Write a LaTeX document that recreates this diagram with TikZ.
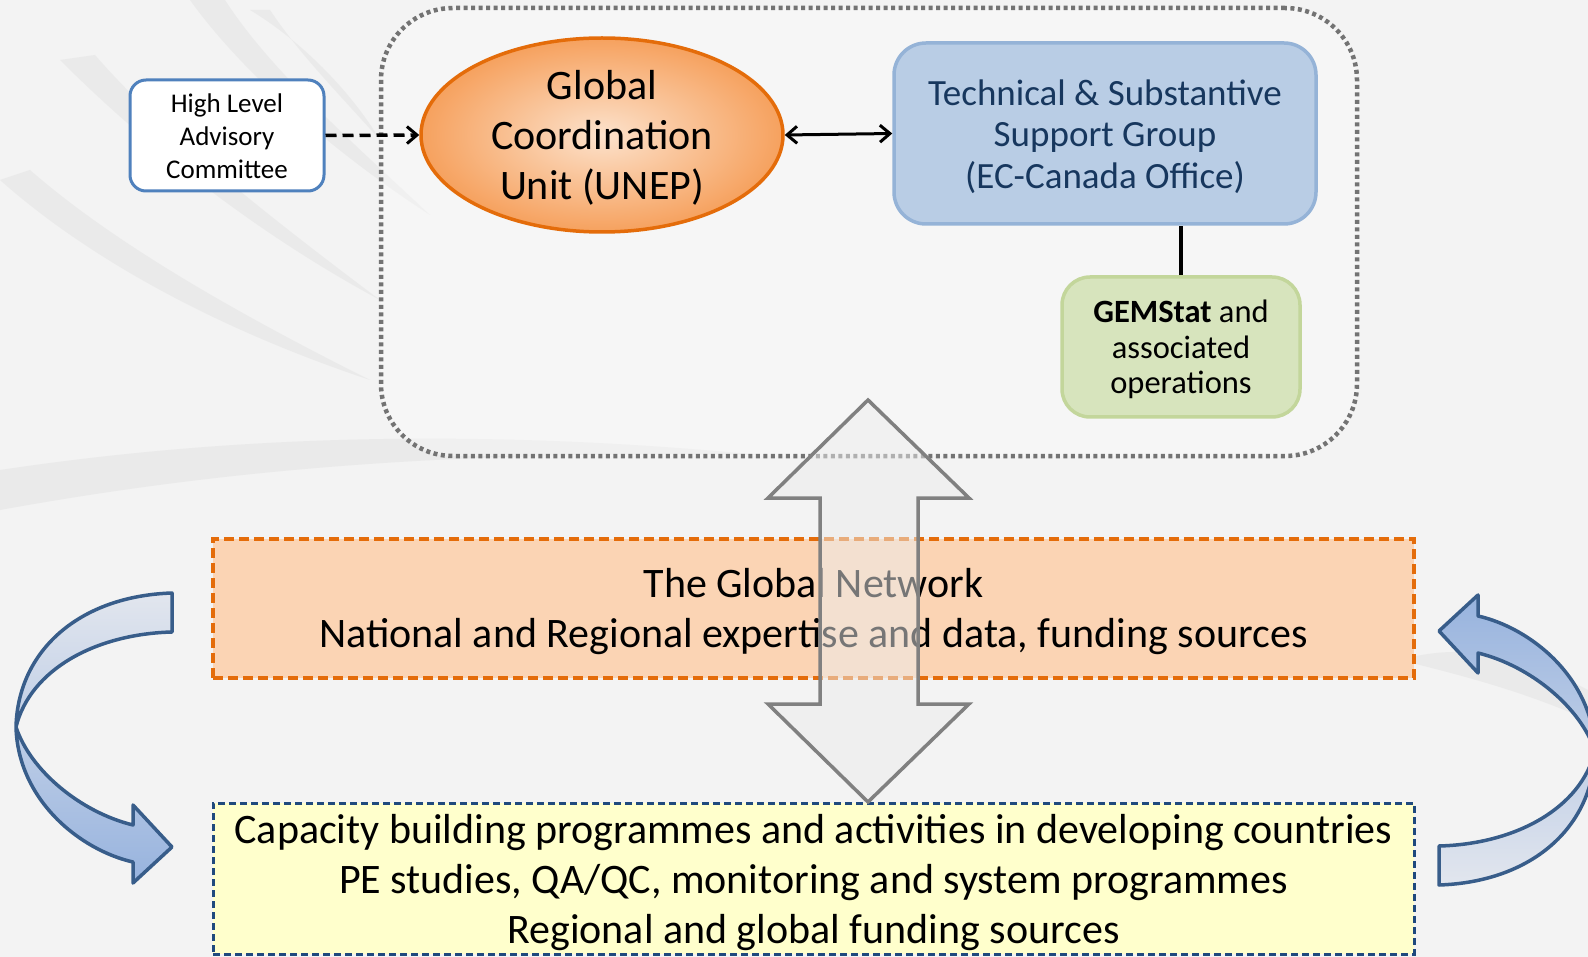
\documentclass[tikz,border=0pt]{standalone}
\usepackage{fontspec}
\setmainfont{Carlito}
\usetikzlibrary{arrows.meta,shapes.geometric}

\definecolor{bgpaper}{HTML}{F3F3F3}
\definecolor{swoosh}{HTML}{D6D6D6}
\definecolor{frameGrey}{HTML}{737373}
\definecolor{hlacBlue}{HTML}{4F81BD}
\definecolor{gcuEdge}{HTML}{E46C0A}
\definecolor{gcuInner}{HTML}{FCE2CC}
\definecolor{gcuOuter}{HTML}{F6A15E}
\definecolor{tsFill}{HTML}{B9CDE5}
\definecolor{tsEdge}{HTML}{95B3D7}
\definecolor{tsText}{HTML}{17375E}
\definecolor{gemFill}{HTML}{D7E4BD}
\definecolor{gemEdge}{HTML}{C3D69B}
\definecolor{netFill}{HTML}{FBD4B4}
\definecolor{netEdge}{HTML}{E46C0A}
\definecolor{capFill}{HTML}{FFFFCC}
\definecolor{capEdge}{HTML}{1F497D}
\definecolor{curveEdge}{HTML}{385D8A}
\definecolor{curveLight}{HTML}{E2E6EE}
\definecolor{curveBlue}{HTML}{97B3DE}
\definecolor{bigArrowEdge}{HTML}{808080}
\definecolor{bigArrowFill}{HTML}{EDEDED}

\tikzset{
  card/.style={draw, rounded corners=#1, inner sep=0pt},
  words/.style={align=center, inner sep=0pt},
  bendarrow/.style={draw=curveEdge, line width=3.5pt, line join=round},
}

\begin{document}
\begin{tikzpicture}[x=1pt,y=-1pt,
    >={Straight Barb[length=10pt,width=17pt,line width=3pt]}]
\useasboundingbox (0,0) rectangle (1588,957);
\clip (0,0) rectangle (1588,957);

% paper background with faint feathered streaks
\fill[bgpaper] (0,0) rectangle (1588,957);
\begin{scope}[swoosh, opacity=0.3]
  \fill (190,0) .. controls (240,70) and (330,150) .. (430,215)
        .. controls (350,140) and (270,70) .. (225,0) -- cycle;
  \fill (60,60) .. controls (140,140) and (250,230) .. (380,300)
        .. controls (260,210) and (160,130) .. (95,55) -- cycle;
  \fill (0,180) .. controls (90,260) and (220,330) .. (370,380)
        .. controls (230,310) and (110,240) .. (30,170) -- cycle;
  \fill (250,10) .. controls (300,40) and (350,90) .. (380,140)
        .. controls (340,95) and (300,55) .. (270,10) -- cycle;
  \fill (0,470) .. controls (200,440) and (450,425) .. (760,455)
        .. controls (450,450) and (220,470) .. (0,510) -- cycle;
  \fill (1400,660) .. controls (1470,640) and (1530,660) .. (1588,690)
        -- (1588,720) .. controls (1520,690) and (1460,675) .. (1400,660) -- cycle;
\end{scope}

% outer dotted container
\node[draw=frameGrey, line width=4.5pt, dash pattern=on 4pt off 3.5pt,
      rounded corners=72pt, fill=white, fill opacity=0.3,
      minimum width=976pt, minimum height=448pt] (unit) at (869,232) {};

% top level boxes
\node[card=16pt, draw=hlacBlue, line width=3pt, fill=white,
      minimum width=194pt, minimum height=111pt] (hlac) at (227,135.5) {};
\node[words, font=\fontsize{27}{33}\selectfont] (hlac-text)
      at ([yshift=-1pt]hlac.center) {High Level\\Advisory\\Committee};

\node[ellipse, draw=gcuEdge, line width=3.5pt, inner color=gcuInner,
      outer color=gcuOuter, minimum width=362pt, minimum height=194pt,
      inner sep=0pt] (gcu) at (602,135) {};
\node[words, font=\fontsize{42}{50}\selectfont] (gcu-text)
      at ([yshift=-2.5pt]gcu.center) {Global\\Coordination\\Unit (UNEP)};

\node[card=32pt, draw=tsEdge, line width=3.5pt, fill=tsFill,
      minimum width=422pt, minimum height=181pt] (tssg) at (1105,133.5) {};
\node[words, text=tsText, font=\fontsize{37}{41.5}\selectfont] (tssg-text)
      at ([yshift=-3pt]tssg.center)
      {Technical \& Substantive\\Support Group\\(EC-Canada Office)};

\node[card=28pt, draw=gemEdge, line width=3.5pt, fill=gemFill,
      minimum width=238pt, minimum height=140pt] (gem) at (1181,347) {};
\node[words, font=\fontsize{32.5}{35.5}\selectfont] (gem-text)
      at ([yshift=-2.5pt]gem.center)
      {\textbf{GEMStat} and\\associated\\operations};

% connectors between the top boxes
\draw[line width=3.5pt, dash pattern=on 11pt off 6pt, ->] (hlac.east) -- (gcu.west);
\draw[line width=3pt, <->] (gcu.east) -- (tssg.west);
\draw[line width=3.5pt] (gem.north) -- (gem.north |- tssg.south);

% network and capacity boxes
\node[draw=netEdge, line width=3.5pt, dash pattern=on 10pt off 5pt, fill=netFill,
      minimum width=1201pt, minimum height=139pt] (net) at (813.5,608.5) {};
\node[words, font=\fontsize{42}{50.5}\selectfont] (net-text)
      at ([yshift=-3pt]net.center)
      {The Global Network\\National and Regional expertise and data, funding sources};

\node[draw=capEdge, line width=3pt, dash pattern=on 7pt off 4pt, fill=capFill,
      minimum width=1201pt, minimum height=151pt] (cap) at (813.5,878.5) {};
\node[words, font=\fontsize{42}{49.6}\selectfont] (cap-text)
      at ([yshift=-4pt]cap.center)
      {Capacity building programmes and activities in developing countries\\
       PE studies, QA/QC, monitoring and system programmes\\
       Regional and global funding sources};

% two-way block arrow between the unit and the network
\draw[draw=bigArrowEdge, line width=3.5pt, line join=miter,
      fill=bigArrowFill, fill opacity=0.5]
  (868,400) -- (969,498) -- (918,498) -- (918,704) -- (969,704) -- (868,802)
  -- (768,704) -- (820,704) -- (820,498) -- (768,498) -- cycle;

% curved arrow on the left, from the network down to capacity building
\path[bendarrow, top color=curveLight, bottom color=curveBlue]
  (172,593) .. controls (80,596) and (18,650) .. (16,727)
  .. controls (18,800) and (80,850) .. (133,862)
  -- (133,883) -- (172,847) -- (133,805) -- (133,825)
  .. controls (80,812) and (30,770) .. (16,727)
  .. controls (30,670) and (95,634) .. (172,632) -- cycle;

% curved arrow on the right, from capacity building back up to the network
\path[bendarrow, top color=curveBlue, bottom color=curveLight]
  (1439,885) .. controls (1531,882) and (1593,828) .. (1595,751)
  .. controls (1593,678) and (1531,628) .. (1478,616)
  -- (1478,595) -- (1439,631) -- (1478,673) -- (1478,653)
  .. controls (1531,666) and (1581,708) .. (1595,751)
  .. controls (1581,808) and (1516,844) .. (1439,846) -- cycle;
\end{tikzpicture}
\end{document}
